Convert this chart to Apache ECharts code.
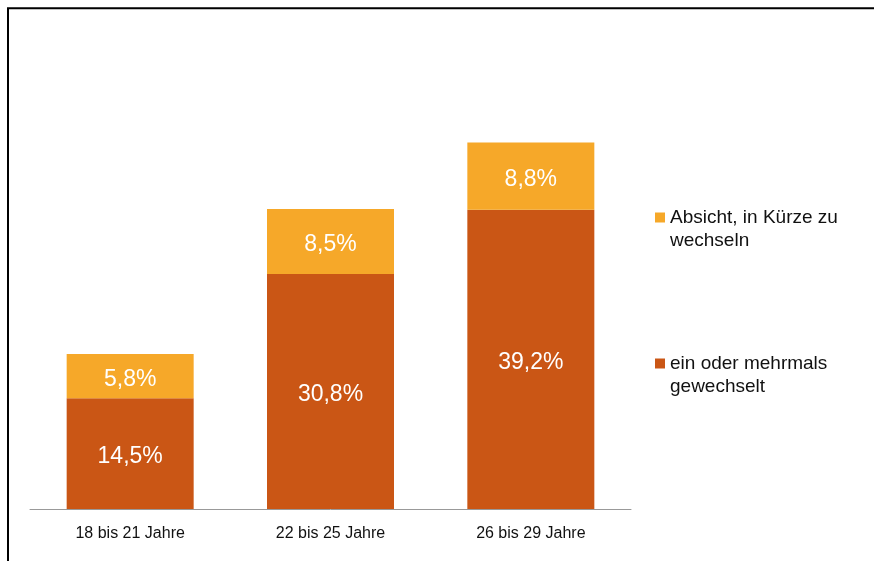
<!DOCTYPE html>
<html>
<head>
<meta charset="utf-8">
<script src="https://cdn.jsdelivr.net/npm/echarts@6/dist/echarts.min.js"></script>
<style>
html,body{margin:0;padding:0;background:#fff;}
#chart{width:878px;height:561px;}
</style>
</head>
<body>
<div id="chart"></div>
<script>
const categories = ['18 bis 21 Jahre', '22 bis 25 Jahre', '26 bis 29 Jahre'];
const seriesNames = ['ein oder mehrmals gewechselt', 'Absicht, in Kürze zu wechseln'];
const legendLabels = ['ein oder mehrmals\ngewechselt', 'Absicht, in Kürze zu\nwechseln'];
const gewechselt = [14.5, 30.8, 39.2];
const absicht = [5.8, 8.5, 8.8];

const chart = echarts.init(document.getElementById('chart'));
const font = '"Liberation Sans", Arial, sans-serif';
const fmt = p => p.value.toFixed(1).replace('.', ',') + '%';
const labelCfg = {show: true, position: 'inside', offset: [0, 3], color: '#fff', fontSize: 23, fontFamily: font, formatter: fmt};

chart.setOption({
  animation: false,
  textStyle: {fontFamily: font},
  graphic: [{
    type: 'polyline',
    shape: {points: [[8, 561], [8, 8.3], [874, 8.3]]},
    style: {stroke: '#000', lineWidth: 2, fill: null},
    silent: true
  }],
  grid: {left: 30, right: 247, top: 51, bottom: 52, containLabel: false},
  xAxis: {
    type: 'category',
    data: categories,
    axisLine: {lineStyle: {color: '#999', width: 1}},
    axisTick: {show: false},
    axisLabel: {color: '#111', fontSize: 16, fontFamily: font, margin: 17}
  },
  yAxis: {type: 'value', min: 0, max: 60, show: false, splitLine: {show: false}},
  legend: {
    orient: 'vertical',
    left: 655,
    top: 183,
    padding: 0,
    itemGap: 77,
    itemWidth: 10,
    itemHeight: 10,
    icon: 'rect',
    data: [seriesNames[1], seriesNames[0]],
    formatter: name => '\n' + legendLabels[seriesNames.indexOf(name)],
    textStyle: {color: '#111', fontSize: 19, fontFamily: font, lineHeight: 23}
  },
  series: [
    {name: seriesNames[0], type: 'bar', stack: 'a', data: gewechselt, barWidth: 127,
     itemStyle: {color: '#CA5615'}, label: labelCfg},
    {name: seriesNames[1], type: 'bar', stack: 'a', data: absicht, barWidth: 127,
     itemStyle: {color: '#F6A829'}, label: labelCfg}
  ]
});
</script>
</body>
</html>
